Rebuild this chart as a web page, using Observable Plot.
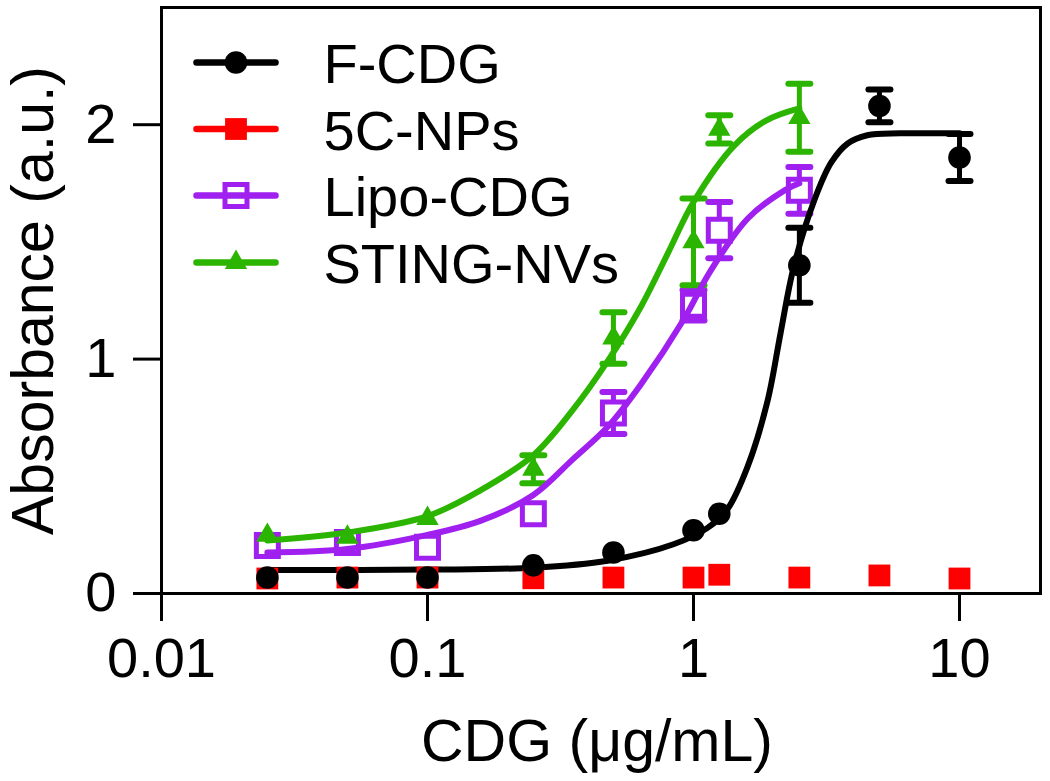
<!DOCTYPE html>
<html>
<head>
<meta charset="utf-8">
<script src="https://cdn.jsdelivr.net/npm/d3@7"></script>
<script src="https://cdn.jsdelivr.net/npm/@observablehq/plot@0.6"></script>
<style>
  body { margin: 0; background: #ffffff; }
  #chart { width: 1050px; height: 781px; }
</style>
</head>
<body>
<div id="chart"></div>
<script>
// ---------- data ----------
const seriesNames  = ["F-CDG", "5C-NPs", "Lipo-CDG", "STING-NVs"];
const seriesColors = ["#000000", "#ff0000", "#a020f0", "#2cb500"];

const conc = [0.025, 0.05, 0.1, 0.25, 0.5, 1, 1.25, 2.5, 5, 10];

const fcdgMean = [0.068, 0.068, 0.068, 0.12, 0.175, 0.27, 0.34, 1.40, 2.08, 1.86];
const fcdgErr  = [0, 0, 0, 0, 0, 0, 0, 0.16, 0.07, 0.10];

const npMean = [0.064, 0.068, 0.068, 0.065, 0.068, 0.068, 0.08, 0.068, 0.077, 0.064];
const npErr  = [0, 0, 0, 0, 0, 0, 0, 0, 0, 0];

const lipoMean = [0.205, 0.218, 0.197, 0.34, 0.77, 1.23, 1.55, 1.72];
const lipoErr  = [0, 0, 0, 0, 0.09, 0.065, 0.12, 0.10];

const stingMean = [0.248, 0.24, 0.32, 0.53, 1.09, 1.50, 1.98, 2.03];
const stingErr  = [0, 0, 0, 0.06, 0.11, 0.185, 0.06, 0.145];

// fitted curves
const fcdgFitX = [0.025, 0.1, 0.25, 0.475, 0.841, 1.129, 1.342, 1.596, 1.897, 2.124, 2.377, 2.85, 3.3, 3.8, 4.5, 6, 10];
const fcdgFitY = [0.10, 0.102, 0.11, 0.14, 0.21, 0.28, 0.36, 0.54, 0.82, 1.11, 1.39, 1.68, 1.84, 1.92, 1.955, 1.963, 1.963];

const lipoFitX = [0.025, 0.05, 0.1, 0.158, 0.25, 0.35, 0.475, 0.632, 0.92, 1.15, 1.6, 2.2, 2.5];
const lipoFitY = [0.175, 0.19, 0.25, 0.31, 0.42, 0.57, 0.71, 0.89, 1.17, 1.37, 1.60, 1.72, 1.75];

const stingFitX = [0.025, 0.05, 0.1, 0.158, 0.25, 0.35, 0.475, 0.632, 0.8, 1.0, 1.42, 1.89, 2.5];
const stingFitY = [0.226, 0.26, 0.33, 0.44, 0.59, 0.78, 0.99, 1.22, 1.45, 1.67, 1.91, 2.02, 2.07];

const xTicks = [0.01, 0.1, 1, 10];
const yTicks = [0, 1, 2];

// ---------- tables ----------
const means = [fcdgMean, npMean, lipoMean, stingMean];
const errs  = [fcdgErr, npErr, lipoErr, stingErr];
const points = [];
means.forEach((m, s) => m.forEach((v, i) => points.push({series: seriesNames[s], x: conc[i], y: v, e: errs[s][i]})));
const errPoints = points.filter(d => d.e > 0);
const caps = errPoints.flatMap(d => [{series: d.series, x: d.x, y: d.y + d.e}, {series: d.series, x: d.x, y: d.y - d.e}]);

const fits = [];
[[fcdgFitX, fcdgFitY, 0], [lipoFitX, lipoFitY, 2], [stingFitX, stingFitY, 3]].forEach(([xs, ys, s]) =>
  xs.forEach((x, i) => fits.push({series: seriesNames[s], x, y: ys[i]})));

const colorOf = Object.fromEntries(seriesNames.map((n, i) => [n, seriesColors[i]]));
const of = name => points.filter(d => d.series === name);

// custom symbol: horizontal segment (error-bar caps & legend lines)
const hSeg = half => ({draw(ctx) { ctx.moveTo(-half, 0); ctx.lineTo(half, 0); }});

// layout constants
const W = 1050, H = 781, mL = 161, mR = 10, mT = 7, mB = 188;
const FONT = "'Liberation Sans', Arial, Helvetica, sans-serif";

// legend rows (pixel offsets within frame)
const legendRows = [62, 128.5, 195, 262];
const legendSwatchX = 235.5, legendTextX = 323;
const symbols = ["circle", "square", "square", "triangle"];
const radii = [11.3, 12.3, 12.4, 8.3];

const legendMarks = [];
seriesNames.forEach((name, i) => {
  const dx = legendSwatchX - mL, dy = legendRows[i] - mT;
  const col = seriesColors[i];
  const lineMark = Plot.dot([name], {frameAnchor: "top-left", dx, dy, symbol: hSeg(39.5), r: 1, stroke: col, strokeWidth: 6.5, strokeLinecap: "round", fill: "none"});
  const markerOpts = {frameAnchor: "top-left", dx, dy, symbol: symbols[i], r: radii[i]};
  if (i === 2) {
    legendMarks.push(Plot.dot([name], {...markerOpts, fill: "white", stroke: col, strokeWidth: 5}));
    legendMarks.push(lineMark);
  } else {
    legendMarks.push(lineMark);
    legendMarks.push(Plot.dot([name], {...markerOpts, fill: col, stroke: "none"}));
  }
  legendMarks.push(Plot.text([name], {frameAnchor: "top-left", dx: legendTextX - mL, dy: legendRows[i] + 3 - mT, textAnchor: "start", lineAnchor: "middle", fontSize: 56, fill: "black"}));
});

const chart = Plot.plot({
  width: W, height: H,
  marginLeft: mL, marginRight: mR, marginTop: mT, marginBottom: mB,
  style: {fontFamily: FONT, background: "white", color: "black"},
  x: {type: "log", domain: [0.01, 20.16]},
  y: {domain: [0, 2.5]},
  marks: [
    Plot.frame({stroke: "black", strokeWidth: 3}),
    Plot.axisX({ticks: xTicks, tickFormat: d => `${d}`, tickSize: 28, tickPadding: 16, fontSize: 56, strokeWidth: 3, label: null}),
    Plot.axisY({ticks: yTicks, tickFormat: d => `${d}`, tickSize: 28, tickPadding: 17, fontSize: 56, strokeWidth: 3, label: null}),
    // error bars
    Plot.ruleX(errPoints, {x: "x", y1: d => d.y - d.e, y2: d => d.y + d.e, stroke: d => colorOf[d.series], strokeWidth: 5}),
    Plot.dot(caps, {x: "x", y: "y", symbol: hSeg(11), r: 1, stroke: d => colorOf[d.series], strokeWidth: 6, strokeLinecap: "round", fill: "none"}),
    // open squares under the curves
    Plot.dot(of("Lipo-CDG"), {x: "x", y: "y", symbol: "square", r: 12.4, fill: "white", stroke: colorOf["Lipo-CDG"], strokeWidth: 5}),
    // fitted curves
    Plot.line(fits, {x: "x", y: "y", z: "series", stroke: d => colorOf[d.series], strokeWidth: 6, curve: "catmull-rom"}),
    // filled markers
    Plot.dot(of("5C-NPs"), {x: "x", y: "y", symbol: "square", r: 12.3, fill: colorOf["5C-NPs"]}),
    Plot.dot(of("F-CDG"), {x: "x", y: "y", symbol: "circle", r: 11.3, fill: colorOf["F-CDG"]}),
    Plot.dot(of("STING-NVs"), {x: "x", y: "y", symbol: "triangle", r: 8.3, fill: colorOf["STING-NVs"]}),
    // axis titles
    Plot.text(["CDG (\u03bcg/mL)"], {frameAnchor: "bottom", dx: -4, dy: 126, textAnchor: "middle", lineAnchor: "top", fontSize: 59, fill: "black"}),
    Plot.text(["Absorbance (a.u.)"], {frameAnchor: "left", dx: -127, dy: 0, rotate: -90, textAnchor: "middle", lineAnchor: "middle", fontSize: 59, fill: "black"}),
    ...legendMarks
  ]
});
document.getElementById("chart").appendChild(chart);
</script>
</body>
</html>
